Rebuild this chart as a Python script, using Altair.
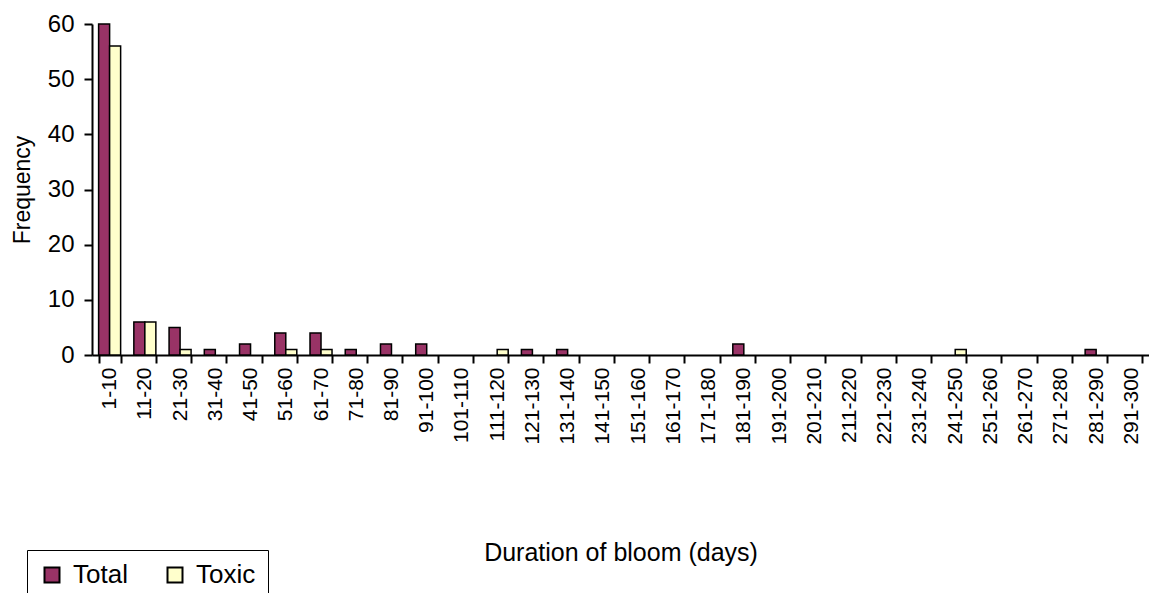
import altair as alt
import pandas as pd

categories = ["1-10", "11-20", "21-30", "31-40", "41-50", "51-60", "61-70", "71-80",
              "81-90", "91-100", "101-110", "111-120", "121-130", "131-140", "141-150",
              "151-160", "161-170", "171-180", "181-190", "191-200", "201-210", "211-220",
              "221-230", "231-240", "241-250", "251-260", "261-270", "271-280", "281-290",
              "291-300"]
total = [60, 6, 5, 1, 2, 4, 4, 1, 2, 2, 0, 0, 1, 1, 0,
         0, 0, 0, 2, 0, 0, 0, 0, 0, 0, 0, 0, 0, 1, 0]
toxic = [56, 6, 1, 0, 0, 1, 1, 0, 0, 0, 0, 1, 0, 0, 0,
         0, 0, 0, 0, 0, 0, 0, 0, 0, 1, 0, 0, 0, 0, 0]
series = ["Total", "Toxic"]
colors = ["#993366", "#FFFFCC"]

rows = []
for c, a, b in zip(categories, total, toxic):
    rows.append({"Duration": c, "Series": "Total", "Frequency": a})
    rows.append({"Duration": c, "Series": "Toxic", "Frequency": b})
df = pd.DataFrame(rows)

FONT = "Liberation Sans"

chart = alt.Chart(df).transform_filter(
    alt.datum.Frequency > 0
).mark_bar(stroke="black", strokeWidth=1.5).encode(
    x=alt.X("Duration:N", sort=categories,
            scale=alt.Scale(domain=categories, paddingInner=0.375, paddingOuter=0.1875),
            axis=alt.Axis(title="Duration of bloom (days)", labelAngle=270,
                          tickBand="extent", tickSize=8, tickWidth=2, tickColor="black",
                          domainColor="black", domainWidth=2, labelPadding=4,
                          labelFontSize=21, labelColor="black", labelFont=FONT,
                          titleFont=FONT, titleFontSize=25, titleFontWeight="normal",
                          titleColor="black", titlePadding=96)),
    xOffset=alt.XOffset("Series:N", sort=series,
                        scale=alt.Scale(domain=series, paddingInner=0, paddingOuter=0)),
    y=alt.Y("Frequency:Q", scale=alt.Scale(domain=[0, 60], nice=False),
            axis=alt.Axis(title="Frequency", values=[0, 10, 20, 30, 40, 50, 60], grid=False,
                          tickSize=8, tickWidth=2, tickColor="black",
                          domainColor="black", domainWidth=2, labelPadding=10,
                          labelFontSize=24, labelColor="black", labelFont=FONT,
                          titleFont=FONT, titleFontSize=23, titleFontWeight="normal",
                          titleColor="black", titlePadding=13)),
    color=alt.Color("Series:N", sort=series,
                    scale=alt.Scale(domain=series, range=colors),
                    legend=alt.Legend(title=None, orient="none", legendX=-65, legendY=526,
                                      direction="horizontal", symbolType="square",
                                      symbolSize=225, symbolStrokeColor="black",
                                      symbolStrokeWidth=2, labelFontSize=26, labelFont=FONT,
                                      labelColor="black", labelOffset=8, columnPadding=34,
                                      padding=12, strokeColor="black",
                                      fillColor="white")),
).properties(
    width=1057, height=331,
    autosize=alt.AutoSizeParams(type="none"),
    padding={"left": 84, "top": 16, "right": 0, "bottom": 238},
).configure_view(stroke=None)

chart.save("out.html", embed_options={"renderer": "svg", "actions": False})
